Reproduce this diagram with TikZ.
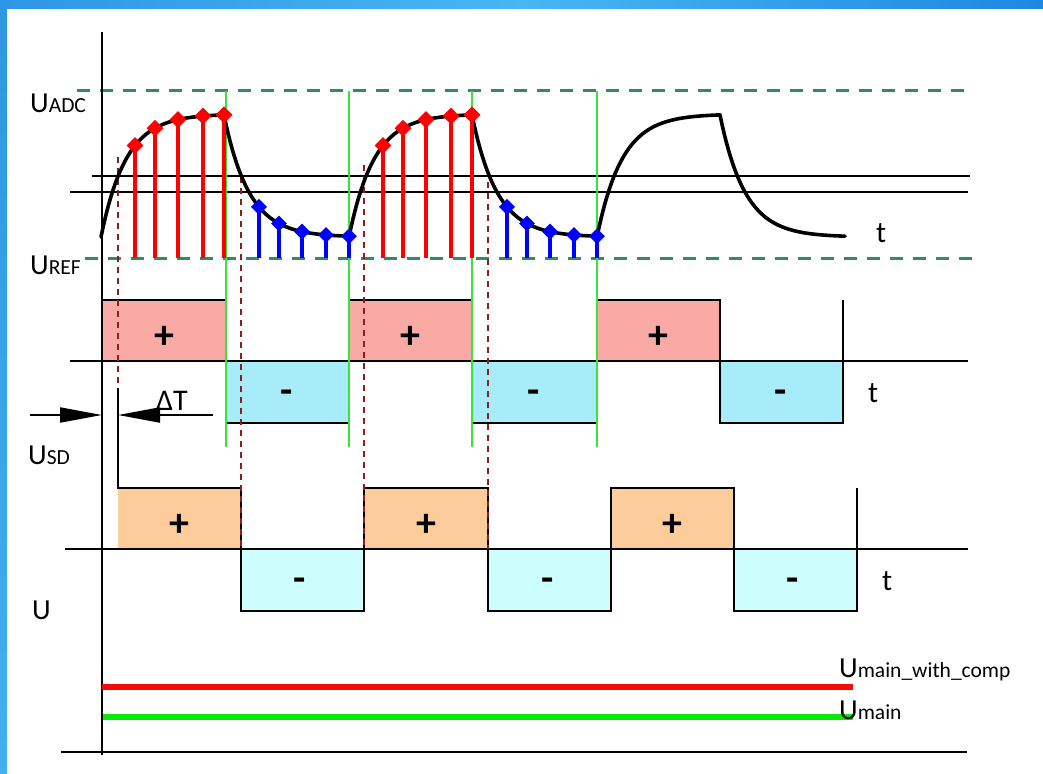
\documentclass[tikz,border=0pt]{standalone}
\usepackage{fontspec}
\setmainfont{Carlito}
\usetikzlibrary{arrows.meta, shapes.geometric}

\definecolor{brdA}{RGB}{46,150,228}
\definecolor{brdB}{RGB}{30,136,224}
\definecolor{brdC}{RGB}{72,182,243}
\definecolor{lvlgreen}{RGB}{50,140,95}
\definecolor{edgegreen}{RGB}{60,225,60}
\definecolor{dlybrown}{RGB}{139,30,30}
\definecolor{posfill}{RGB}{249,170,165}
\definecolor{negfill}{RGB}{168,236,250}
\definecolor{posfilltwo}{RGB}{252,204,155}
\definecolor{negfilltwo}{RGB}{204,254,254}
\definecolor{mainred}{RGB}{245,10,10}
\definecolor{maingreen}{RGB}{10,232,10}

\newcommand{\usig}[1]{{\fontsize{29}{29}\selectfont U}{\fontsize{21.5}{21.5}\selectfont #1}}

\begin{document}
\begin{tikzpicture}[x=1pt,y=-1pt,
  lbl/.style={inner sep=0pt, anchor=base west},
  tlbl/.style={inner sep=0pt, anchor=base west, font=\fontsize{30}{30}\selectfont},
  sgn/.style={inner sep=0pt, font=\fontsize{40}{40}\selectfont\bfseries},
  axisline/.style={line width=2.3pt},
  lvl/.style={line width=3pt, lvlgreen, dash pattern=on 13pt off 10pt},
  gridv/.style={line width=1.5pt, edgegreen},
  dly/.style={line width=2pt, dlybrown, dash pattern=on 6pt off 5pt},
  wave/.style={line width=2.3pt, line join=miter},
  sigcurve/.style={line width=3.6pt, line join=round, line cap=round},
  redstem/.style={line width=3.5pt, red},
  bluestem/.style={line width=3.5pt, blue},
  reddia/.style={diamond, fill=red, inner sep=0pt, minimum size=17pt},
  bluedia/.style={diamond, fill=blue, inner sep=0pt, minimum size=16pt},
  dtarrow/.style={line width=2pt, -{Triangle[length=42pt,width=15pt]}}]
\useasboundingbox (0,0) rectangle (1043,773);

% define the frame
  \shade[left color=brdA, right color=brdB, middle color=brdC] (0,0) rectangle (1043,9);
  \shade[top color=brdA, bottom color=brdC!80!brdA] (0,0) rectangle (7,773);

% define the levels
  \draw[lvl] (77,91) -- (970,91);
  \draw[lvl] (85,258) -- (975,258);
  \draw[line width=1.3pt] (92,176) -- (970,176);
  \draw[line width=2.3pt] (70,192) -- (968,192);

% define the boxes
  \foreach \a/\b in {102/226, 349/472, 597/720}
    \fill[posfill] (\a,300) rectangle (\b,361);
  \foreach \a/\b in {226/349, 472/597, 720/843}
    \fill[negfill] (\a,361) rectangle (\b,423);
  \foreach \a/\b in {118/241, 364/488, 611/734}
    \fill[posfilltwo] (\a,488) rectangle (\b,549);
  \foreach \a/\b in {241/364, 488/611, 734/857}
    \fill[negfilltwo] (\a,549) rectangle (\b,611);

% define the waves
  \draw[axisline] (102,32) -- (102,755);
  \draw[axisline] (61,752) -- (967,752);
  \draw[wave] (70,361) -- (968,361);
  \draw[wave] (65,549) -- (968,549);
  \draw[wave] (102,300) -- (226,300) -- (226,423) -- (349,423) -- (349,300)
    -- (472,300) -- (472,423) -- (597,423) -- (597,300) -- (720,300)
    -- (720,423) -- (843,423) -- (843,300);
  \draw[wave] (118,388) -- (118,488) -- (241,488) -- (241,611) -- (364,611)
    -- (364,488) -- (488,488) -- (488,611) -- (611,611) -- (611,488)
    -- (734,488) -- (734,611) -- (857,611) -- (857,488);

% define the edges
  \foreach \x in {226,349,472,597}
    \draw[gridv] (\x,91) -- (\x,447);
  \draw[dly] (118,157) -- (118,388);
  \draw[dly] (241,177) -- (241,549);
  \draw[dly] (364,165) -- (364,549);
  \draw[dly] (488,182) -- (488,549);

% define the signal
  \foreach \c in {0,1,2} {
    \pgfmathsetmacro{\xs}{101+248*\c}
    \draw[sigcurve] plot[domain=0:123,samples=60] ({\xs+\x},{237-123*(1-exp(-\x/25))})
      -- plot[domain=0:125,samples=60] ({\xs+123+\x},{115+122*(1-exp(-\x/25))});
  }
  \foreach \c in {0,1} {
    \pgfmathsetmacro{\xs}{101+248*\c}
    \foreach \o in {34,54,77,102,123} {
      \pgfmathsetmacro{\yy}{237-123*(1-exp(-\o/25))}
      \draw[redstem] (\xs+\o,\yy) -- (\xs+\o,258);
      \node[reddia] (r\c\o) at (\xs+\o,\yy) {};
    }
    \foreach \o in {35,55,78,102,125} {
      \pgfmathsetmacro{\yy}{115+122*(1-exp(-\o/25))}
      \draw[bluestem] (\xs+123+\o,\yy) -- (\xs+123+\o,258);
      \node[bluedia] (b\c\o) at (\xs+123+\o,\yy) {};
    }
  }

% define the delay
  \coordinate (dta) at (30,415);
  \coordinate (dtb) at (102,415);
  \coordinate (dtc) at (213,415);
  \coordinate (dtd) at (118,415);
  \draw[dtarrow] (dta) -- (dtb);
  \draw[dtarrow] (dtc) -- (dtd);
  \node[lbl, font=\fontsize{30}{30}\selectfont] (dt) at (156,410) {ΔT};

% define the outputs
  \draw[line width=6pt, mainred] (102,687) -- (853,687);
  \draw[line width=6pt, maingreen] (103,717) -- (853,717);

% define the labels
  \node[lbl] (uadc) at (30,113) {\usig{ADC}};
  \node[lbl] (uref) at (30,274) {\usig{REF}};
  \node[lbl] (usd) at (28,464) {\usig{SD}};
  \node[lbl] (u) at (32,619) {\usig{}};
  \node[lbl] (umwc) at (839,677) {\usig{main\_with\_comp}};
  \node[lbl] (umain) at (839,719) {\usig{main}};
  \node[tlbl] (t1) at (876,242) {t};
  \node[tlbl] (t2) at (868,402) {t};
  \node[tlbl] (t3) at (882,590) {t};

  \foreach \x/\n in {164/1, 410/2, 658/3}
    \node[sgn] (pa\n) at (\x,337) {+};
  \foreach \x/\n in {287/1, 534/2, 781/3}
    \node[sgn] (ma\n) at (\x,397) {-};
  \foreach \x/\n in {179/1, 426/2, 672/3}
    \node[sgn] (pb\n) at (\x,525) {+};
  \foreach \x/\n in {300/1, 548/2, 793/3}
    \node[sgn] (mb\n) at (\x,585) {-};
\end{tikzpicture}
\end{document}
